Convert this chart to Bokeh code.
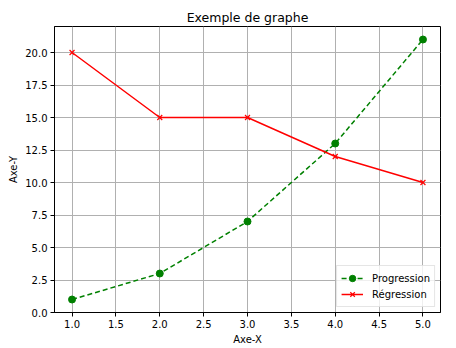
from bokeh.plotting import figure
from bokeh.models import Range1d, SingleIntervalTicker, PrintfTickFormatter
from bokeh.embed import file_html
from bokeh.resources import INLINE

x = [1, 2, 3, 4, 5]
progression = [1, 3, 7, 13, 21]
regression = [20, 15, 15, 12, 10]
title_text = "Exemple de graphe"
x_label = "Axe-X"
y_label = "Axe-Y"

FONT = "DejaVu Sans"

p = figure(width=456, height=348, output_backend="svg", toolbar_location=None,
           x_range=Range1d(0.8, 5.2), y_range=Range1d(0, 22),
           min_border_left=54, min_border_right=16, min_border_top=26, min_border_bottom=36,
           title=title_text)

p.title.align = "center"
p.title.text_font = FONT
p.title.text_font_size = "12.5px"
p.title.text_font_style = "normal"
p.title.text_color = "black"
p.title.standoff = 4
p.title.offset = 0

p.background_fill_color = "white"
p.border_fill_color = "white"
p.outline_line_color = "black"
p.outline_line_width = 1

p.xaxis.ticker = SingleIntervalTicker(interval=0.5)
p.yaxis.ticker = SingleIntervalTicker(interval=2.5)
p.xaxis.formatter = PrintfTickFormatter(format="%.1f")
p.yaxis.formatter = PrintfTickFormatter(format="%.1f")
p.xaxis.axis_label = x_label
p.yaxis.axis_label = y_label
for ax in (p.xaxis, p.yaxis):
    ax.axis_line_color = "black"
    ax.major_tick_line_color = "black"
    ax.major_tick_out = 4
    ax.major_tick_in = 0
    ax.minor_tick_line_color = None
    ax.major_label_text_font = FONT
    ax.major_label_text_font_size = "10px"
    ax.major_label_text_color = "black"
    ax.axis_label_text_font = FONT
    ax.axis_label_text_font_size = "10px"
    ax.axis_label_text_font_style = "normal"
    ax.axis_label_text_color = "black"
    ax.major_label_standoff = 3
    ax.axis_label_standoff = 3

p.xgrid.grid_line_color = "#b0b0b0"
p.ygrid.grid_line_color = "#b0b0b0"
p.xgrid.grid_line_width = 1
p.ygrid.grid_line_width = 1

p.line(x, progression, line_color="green", line_dash="5 3", line_width=1.5, legend_label="Progression")
p.scatter(x, progression, marker="circle", size=7, fill_color="green", line_color="green", legend_label="Progression")
p.line(x, regression, line_color="red", line_width=1.5, legend_label="Régression")
p.scatter(x, regression, marker="x", size=7, line_color="red", line_width=1.2, legend_label="Régression")

p.legend.location = "bottom_right"
p.legend.label_text_font = FONT
p.legend.label_text_font_size = "10px"
p.legend.label_text_color = "black"
p.legend.border_line_color = "#cccccc"
p.legend.border_line_width = 1
p.legend.background_fill_alpha = 0.8
p.legend.spacing = 0
p.legend.padding = 4
p.legend.margin = 5
p.legend.glyph_width = 22
p.legend.glyph_height = 16
p.legend.label_height = 16
p.legend.label_standoff = 9

open("out.html", "w").write(file_html(p, INLINE))
